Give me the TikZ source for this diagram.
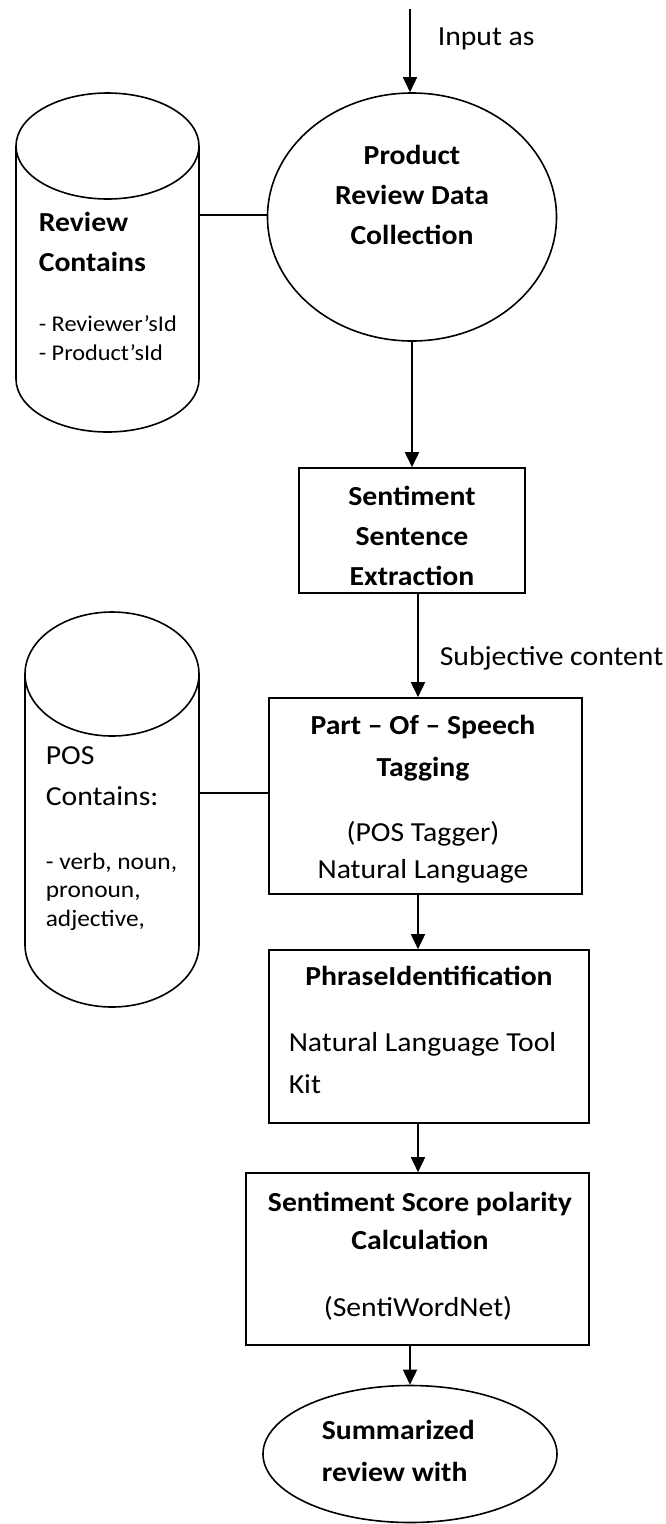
\documentclass[tikz,border=0pt]{standalone}
\usepackage{fontspec}
\setmainfont{Carlito}[FakeStretch=1.08]
\usetikzlibrary{shapes.geometric,arrows.meta}

\tikzset{
  arr/.style={-{Triangle[length=15pt,width=14pt]}},
  box/.style={draw, inner sep=0pt},
  txt/.style={inner sep=0pt, anchor=north, font=\fontsize{27.5}{40}\selectfont},
  btxt/.style={txt, font=\fontsize{27.5}{40}\selectfont\bfseries},
  stxt/.style={inner sep=0pt, anchor=north west, align=left, font=\fontsize{22.5}{29}\selectfont}
}

\begin{document}
\begin{tikzpicture}[x=1pt,y=-1pt,line width=1.6pt]
    \useasboundingbox (0,0) rectangle (666,1524);

    % review store
    \draw (107.5,146) ellipse [x radius=91.5, y radius=53]
    (16,146) -- (16,379) arc [start angle=180, end angle=0, x radius=91.5, y radius=53] -- (199,146);
    \coordinate (revstore) at (199,215);
    \node[btxt, anchor=north west, align=left] at (38,211) {Review\\Contains};
    \node[stxt] at (38,315) {- Reviewer’sId\\- Product’sId};

    % pos store
    \draw (112,674) ellipse [x radius=87, y radius=62]
    (25,674) -- (25,945) arc [start angle=180, end angle=0, x radius=87, y radius=62] -- (199,674);
    \coordinate (posstore) at (199,793);
    \node[txt, anchor=north west, align=left, font=\fontsize{27.5}{41}\selectfont] at (45,746) {POS\\Contains:};
    \node[stxt, font=\fontsize{23.5}{28.5}\selectfont] at (45,852) {- verb, noun,\\pronoun,\\adjective,};

    % process
    \node[ellipse, draw, minimum width=289, minimum height=248, inner sep=0pt] (prc) at (412,217) {};
    \node[btxt, align=center] at (412,144) {Product\\Review Data\\Collection};

    \node[box, minimum width=226, minimum height=125] (sse) at (412,530.5) {};
    \node[btxt, align=center] at (412,485) {Sentiment\\Sentence\\Extraction};

    \node[box, minimum width=313, minimum height=196] (pos) at (425.5,796) {};
    \node[btxt, align=center, font=\fontsize{27.5}{42}\selectfont\bfseries] at (423,714) {Part – Of – Speech\\Tagging};
    \node[txt, align=center, font=\fontsize{27.5}{37}\selectfont] at (423,821) {(POS Tagger)\\Natural Language};

    \node[box, minimum width=320, minimum height=173] (phr) at (429,1036.5) {};
    \node[btxt] at (429,965) {PhraseIdentification};
    \node[txt, anchor=north west, align=left, font=\fontsize{27.5}{42}\selectfont] at (288,1032) {Natural Language Tool\\Kit};

    \node[box, minimum width=343, minimum height=172] (ssc) at (417.5,1259) {};
    \node[btxt, align=center, font=\fontsize{27.5}{38}\selectfont\bfseries] at (420,1191) {Sentiment Score polarity\\Calculation};
    \node[txt] at (418,1296) {(SentiWordNet)};

    \node[ellipse, draw, minimum width=294, minimum height=137, inner sep=0pt] (sum) at (410,1454) {};
    \node[btxt, anchor=north west, align=left, font=\fontsize{27.5}{42}\selectfont\bfseries] at (321,1419) {Summarized\\review with};

    % connectors
    \coordinate (in) at (410,9);
    \draw[arr] (in) -- (in |- prc.north);
    \node[txt, anchor=north west] at (437,27) {Input as};
    \draw (revstore) -- (revstore -| prc.west);
    \draw (posstore) -- (posstore -| pos.west);
    \draw[arr] (prc.south) -- (sse.north);
    \draw[arr] ([xshift=6pt]sse.south) -- ([xshift=6pt]sse.south |- pos.north);
    \node[txt, anchor=north west] at (439,646) {Subjective content};
    \draw[arr] ([xshift=-7.5pt]pos.south) -- ([xshift=-7.5pt]pos.south |- phr.north);
    \draw[arr] ([xshift=-11pt]phr.south) -- ([xshift=-11pt]phr.south |- ssc.north);
    \draw[arr] (sum.north |- ssc.south) -- (sum.north);
\end{tikzpicture}
\end{document}
